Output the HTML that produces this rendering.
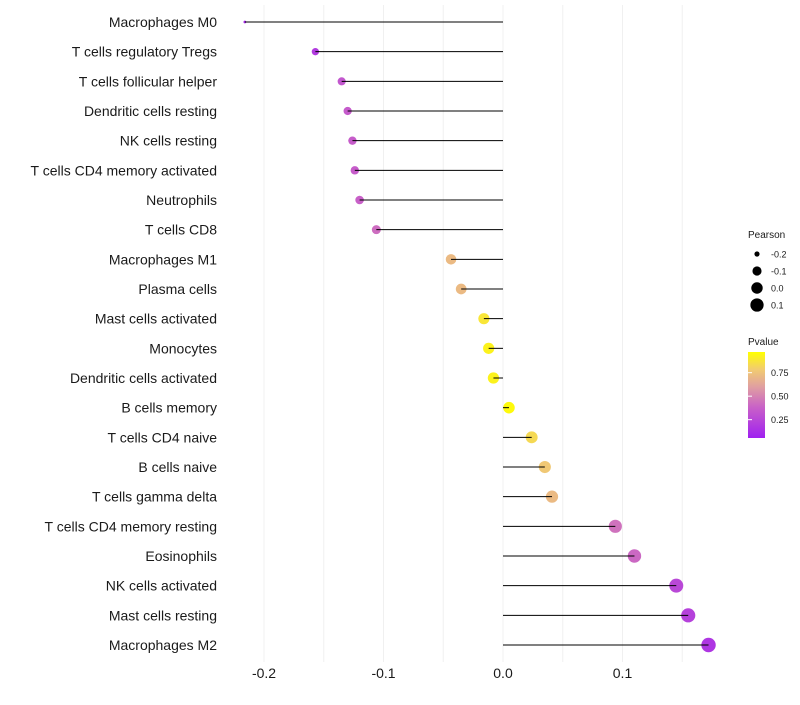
<!DOCTYPE html>
<html><head><meta charset="utf-8"><style>
body{margin:0;background:#fff;font-family:"Liberation Sans",sans-serif;}
</style></head><body>
<svg id="chart" width="800" height="700" xmlns="http://www.w3.org/2000/svg">
<defs><linearGradient id="pg" x1="0" y1="1" x2="0" y2="0">
<stop offset="0" stop-color="#a020f0"/><stop offset="0.35" stop-color="#c860c8"/><stop offset="0.6" stop-color="#e0a0a0"/><stop offset="0.8" stop-color="#f2cc70"/><stop offset="1" stop-color="#ffff00"/>
</linearGradient></defs>
<g id="grid"></g><g id="marks"></g><g id="labels"></g><g id="legend"></g>
</svg>
<script>
const categories=["Macrophages M0","T cells regulatory  Tregs","T cells follicular helper","Dendritic cells resting","NK cells resting","T cells CD4 memory activated","Neutrophils","T cells CD8","Macrophages M1","Plasma cells","Mast cells activated","Monocytes","Dendritic cells activated","B cells memory","T cells CD4 naive","B cells naive","T cells gamma delta","T cells CD4 memory resting","Eosinophils","NK cells activated","Mast cells resting","Macrophages M2"];
const pearson=[-0.216,-0.157,-0.135,-0.130,-0.126,-0.124,-0.120,-0.106,-0.0435,-0.035,-0.016,-0.012,-0.008,0.005,0.024,0.035,0.041,0.094,0.110,0.145,0.155,0.172];
const pvalue=[0.05,0.15,0.3,0.32,0.33,0.33,0.35,0.4,0.72,0.72,0.9,0.95,0.95,0.98,0.85,0.78,0.72,0.42,0.38,0.22,0.18,0.12];
const xTicks=[-0.2,-0.1,0.0,0.1];
const xTickLabels=["-0.2","-0.1","0.0","0.1"];
const sizeLegend=[-0.2,-0.1,0.0,0.1];
const colorTicks=[0.25,0.5,0.75];
const NS="http://www.w3.org/2000/svg";
const X=v=>503+v*1195;
const Y=i=>22+i*29.667;
const R=v=>1.4+5.8*Math.sqrt(Math.max(0,(v+0.216)/0.388));
const stops=[[0,[160,32,240]],[0.35,[200,96,200]],[0.6,[224,160,160]],[0.8,[242,204,112]],[1,[255,255,0]]];
function col(p){for(let k=1;k<stops.length;k++){if(p<=stops[k][0]){const a=stops[k-1],b=stops[k],t=(p-a[0])/(b[0]-a[0]);return 'rgb('+a[1].map((c,j)=>Math.round(c+(b[1][j]-c)*t)).join(',')+')';}}return 'rgb(255,255,0)';}
function mk(tag,at,parent,txt){const e=document.createElementNS(NS,tag);for(const k in at)e.setAttribute(k,at[k]);if(txt!==undefined)e.textContent=txt;document.getElementById(parent).appendChild(e);return e;}
for(let v=-0.25;v<=0.151;v+=0.05){const x=X(v);if(x<230||x>720)continue;
const g=mk('line',{x1:x,x2:x,y1:5,y2:662,stroke:'#f0f0f0','stroke-width':1},'grid');

}
xTicks.forEach((t,i)=>{const e=mk('text',{x:X(t),y:678,'text-anchor':'middle','font-size':14,fill:'#1a1a1a'},'labels',xTickLabels[i]);

});
categories.forEach((c,i)=>{const y=Y(i);
const e=mk('text',{x:217,y:y+5,'text-anchor':'end','font-size':14,fill:'#1a1a1a'},'labels',c);


const p=mk('circle',{cx:X(pearson[i]),cy:y,r:R(pearson[i]),fill:col(pvalue[i])},'marks');


const l=mk('line',{x1:X(0),x2:X(pearson[i]),y1:y,y2:y,stroke:'#000','stroke-width':1},'marks');

});
let e=mk('text',{x:748,y:238,'font-size':10,fill:'#1a1a1a'},'legend','Pearson');


sizeLegend.forEach((v,i)=>{const y=254+i*17;
const c=mk('circle',{cx:757,cy:y,r:R(v),fill:'#000'},'legend');


const t=mk('text',{x:771,y:y+3.5,'font-size':9,fill:'#1a1a1a'},'legend',v.toFixed(1));

});
e=mk('text',{x:748,y:345,'font-size':10,fill:'#1a1a1a'},'legend','Pvalue');


const cb=mk('rect',{x:748,y:352,width:17,height:86,fill:'url(#pg)'},'legend');


colorTicks.forEach(v=>{const y=352+(0.97-v)*94;
const t=mk('text',{x:771,y:y+3.5,'font-size':9,fill:'#1a1a1a'},'legend',v.toFixed(2));


const k=mk('line',{x1:748,x2:752,y1:y,y2:y,stroke:'#fff'},'legend');

});
</script>
</body></html>
